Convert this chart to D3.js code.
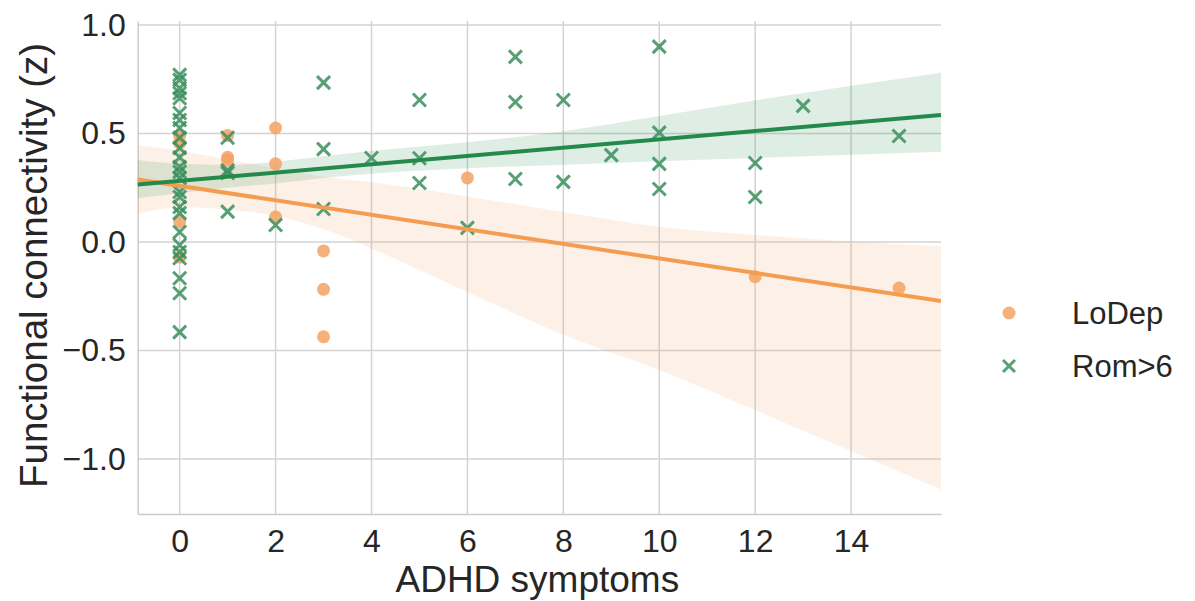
<!DOCTYPE html>
<html>
<head>
<meta charset="utf-8">
<script src="https://cdn.jsdelivr.net/npm/d3@7"></script>
<style>
  body { margin: 0; background: #fff; }
  text { font-family: "Liberation Sans", Arial, sans-serif; fill: #262626; }
</style>
</head>
<body>
<div id="chart"></div>
<script>
// LoDep points (ADHD symptoms, functional connectivity)
const loDepX = [0, 0, 0, 0, 1, 1, 1, 2, 2, 2, 3, 3, 3, 6, 12, 15];
const loDepY = [0.49, 0.455, 0.094, -0.07, 0.49, 0.39, 0.378, 0.525, 0.36, 0.115, -0.041, -0.218, -0.437, 0.295, -0.16, -0.212];

// Rom>6 points
const romX = [0, 0, 0, 0, 0, 0, 0, 0, 0, 0, 0, 0, 0, 0, 0, 0, 0, 0, 0, 0, 0, 0, 0, 0, 0,
              1, 1, 1, 1, 2, 3, 3, 3, 4, 5, 5, 5, 6, 7, 7, 7, 8, 8, 9, 10, 10, 10, 10, 12, 12, 13, 15];
const romY = [0.77, 0.747, 0.708, 0.685, 0.662, 0.594, 0.562, 0.525, 0.48, 0.433, 0.39, 0.346, 0.323, 0.294,
              0.23, 0.207, 0.161, 0.133, 0.046, -0.014, -0.046, -0.075, -0.167, -0.236, -0.415,
              0.48, 0.33, 0.318, 0.14, 0.078, 0.734, 0.428, 0.152, 0.387, 0.654, 0.386, 0.272, 0.065,
              0.853, 0.645, 0.29, 0.654, 0.277, 0.40, 0.90, 0.504, 0.36, 0.244, 0.364, 0.207, 0.627, 0.488];

// regression lines (read at the x-limits)
const fitX = [-0.875, 15.875];
const loDepFit = [0.288, -0.272];
const romFit = [0.265, 0.585];

// confidence bands
const bandX = [-0.875, 0, 1, 2, 3, 4.2, 6, 7.93, 10, 12.05, 15.875];
const loDepUpper = [0.447, 0.42, 0.38, 0.34, 0.30, 0.27, 0.21, 0.14, 0.07, 0.032, -0.02];
const loDepLower = [0.13, 0.16, 0.15, 0.12, 0.06, -0.05, -0.23, -0.42, -0.59, -0.78, -1.14];
const romUpper = [0.378, 0.36, 0.355, 0.37, 0.395, 0.424, 0.46, 0.508, 0.58, 0.654, 0.78];
const romLower = [0.203, 0.225, 0.25, 0.27, 0.295, 0.318, 0.34, 0.355, 0.372, 0.387, 0.416];

const xTicks = [0, 2, 4, 6, 8, 10, 12, 14];
const yTicks = [-1.0, -0.5, 0.0, 0.5, 1.0];

const width = 1195, height = 601;
const orange = "#f4a261", orangeLine = "#f49c50";
const green = "#3a8f5e", greenLine = "#248a4c";

const svg = d3.select("#chart").append("svg")
    .attr("width", width)
    .attr("height", height);

const x = d3.scaleLinear().domain([-0.875, 15.875]).range([137.7, 941]);
const y = d3.scaleLinear().domain([-1.253, 1.018]).range([514, 21]);

// grid
svg.append("g").selectAll("line").data(xTicks).enter().append("line")
    .attr("x1", d => x(d)).attr("x2", d => x(d))
    .attr("y1", y.range()[1]).attr("y2", y.range()[0])
    .attr("stroke", "#d3d3d3").attr("stroke-width", 1.5);
svg.append("g").selectAll("line").data(yTicks).enter().append("line")
    .attr("x1", x.range()[0]).attr("x2", x.range()[1])
    .attr("y1", d => y(d)).attr("y2", d => y(d))
    .attr("stroke", "#d3d3d3").attr("stroke-width", 1.5);

// axes (spines + labels)
const xAxis = svg.append("g")
    .attr("transform", `translate(0,${y.range()[0]})`)
    .call(d3.axisBottom(x).tickValues(xTicks).tickFormat(d3.format("d")).tickSize(0).tickPadding(15));
const yAxis = svg.append("g")
    .attr("transform", `translate(${x.range()[0]},0)`)
    .call(d3.axisLeft(y).tickValues(yTicks).tickFormat(d => d3.format(".1f")(d).replace("-", "\u2212")).tickSize(0).tickPadding(12));
[xAxis, yAxis].forEach(a => {
    a.select(".domain").attr("stroke", "#cccccc").attr("stroke-width", 1.5);
    a.selectAll("text").style("font-size", "32px").style("font-family", "'Liberation Sans', Arial, sans-serif").attr("fill", "#262626");
});
xAxis.selectAll("text").attr("dy", "0.71em");

// bands
const bandArea = (upper, lower) => d3.area()
    .x((d, i) => x(bandX[i]))
    .y0((d, i) => y(lower[i]))
    .y1((d, i) => y(upper[i]))
    .curve(d3.curveMonotoneX)(bandX);

svg.append("path").attr("d", bandArea(loDepUpper, loDepLower))
    .attr("fill", orange).attr("fill-opacity", 0.15);
svg.append("path").attr("d", bandArea(romUpper, romLower))
    .attr("fill", greenLine).attr("fill-opacity", 0.15);

// points
const loDep = loDepX.map((v, i) => ({ x: v, y: loDepY[i] }));
const rom = romX.map((v, i) => ({ x: v, y: romY[i] }));

svg.append("g").selectAll("circle").data(loDep).enter().append("circle")
    .attr("cx", d => x(d.x)).attr("cy", d => y(d.y)).attr("r", 6.5)
    .attr("fill", orange).attr("fill-opacity", 0.85);

const s = 6.5;
svg.append("g").selectAll("path").data(rom).enter().append("path")
    .attr("transform", d => `translate(${x(d.x)},${y(d.y)})`)
    .attr("d", `M${-s},${-s}L${s},${s}M${-s},${s}L${s},${-s}`)
    .attr("stroke", green).attr("stroke-width", 3).attr("stroke-opacity", 0.85);

// regression lines
const line = vals => d3.line().x((d, i) => x(fitX[i])).y((d, i) => y(vals[i]))(fitX);
svg.append("path").attr("d", line(loDepFit)).attr("stroke", orangeLine).attr("stroke-width", 4).attr("fill", "none");
svg.append("path").attr("d", line(romFit)).attr("stroke", greenLine).attr("stroke-width", 4).attr("fill", "none");

// axis titles
svg.append("text")
    .attr("x", (x.range()[0] + x.range()[1]) / 2 - 2).attr("y", 592)
    .attr("text-anchor", "middle").style("font-size", "37px")
    .text("ADHD symptoms");
svg.append("text")
    .attr("transform", `translate(47,${(y.range()[0] + y.range()[1]) / 2 - 2}) rotate(-90)`)
    .attr("text-anchor", "middle").style("font-size", "38.5px")
    .text("Functional connectivity (z)");

// legend
const legend = svg.append("g").attr("transform", "translate(1009,0)");
legend.append("circle").attr("cx", 0).attr("cy", 313).attr("r", 6.5)
    .attr("fill", orange).attr("fill-opacity", 0.85);
legend.append("path").attr("transform", "translate(0,366)")
    .attr("d", `M-6,-6L6,6M-6,6L6,-6`)
    .attr("stroke", green).attr("stroke-width", 3).attr("stroke-opacity", 0.85);
legend.append("text").attr("x", 63).attr("y", 313).attr("dy", "0.36em")
    .style("font-size", "31px").text("LoDep");
legend.append("text").attr("x", 63).attr("y", 366).attr("dy", "0.36em")
    .style("font-size", "31px").text("Rom>6");
</script>
</body>
</html>
